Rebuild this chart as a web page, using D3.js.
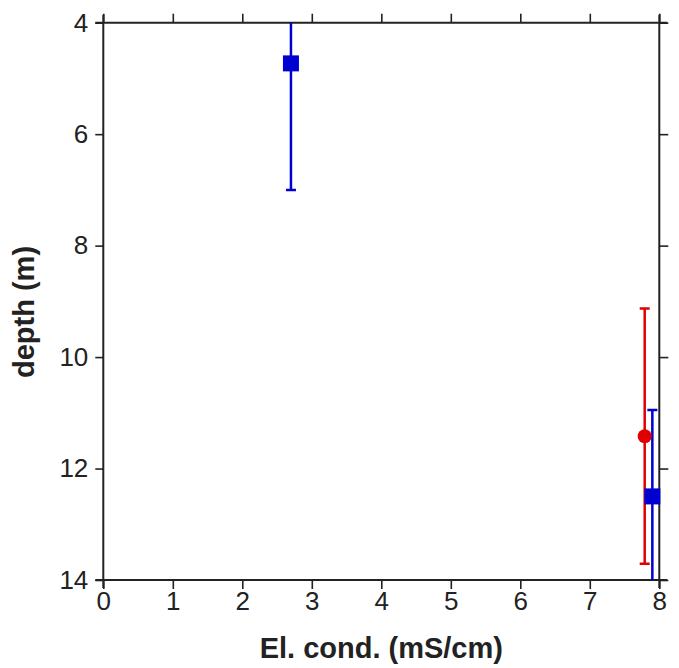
<!DOCTYPE html>
<html>
<head>
<meta charset="utf-8">
<style>
  body { margin: 0; background: #fff; }
  text { font-family: "Liberation Sans", Arial, sans-serif; }
</style>
</head>
<body>
<div id="viz_area"></div>
<script src="https://cdn.jsdelivr.net/npm/d3@7"></script>
<script>
    // data
    var blueX = [2.7, 7.9],
        blueY = [4.73, 12.5],
        blueLo = [2.5, 10.95],     // upper end (shallower depth), clipped at 4
        blueHi = [7.0, 14.6];      // lower end, second one runs past the axis
    var redX = [7.79],
        redY = [11.42],
        redLo = [9.13],
        redHi = [13.71];
    var xTicks = [0, 1, 2, 3, 4, 5, 6, 7, 8],
        yTicks = [4, 6, 8, 10, 12, 14];

    var margin = {top: 22.7, right: 20, bottom: 88, left: 103.3},
        W = 679, H = 668,
        width = 659.3 - margin.left,
        height = 580 - margin.top;

    var svg = d3.select("#viz_area").append("svg")
        .attr("width", W).attr("height", H);
    var g = svg.append("g")
        .attr("transform", "translate(" + margin.left + "," + margin.top + ")");

    var x = d3.scaleLinear().domain([0, 8]).range([0, width]);
    var y = d3.scaleLinear().domain([4, 14]).range([0, height]);

    // clip for the data
    g.append("clipPath").attr("id", "clip")
      .append("rect").attr("width", width).attr("height", height);

    function styleAxis(sel, showLabels) {
        sel.attr("font-family", null);
        sel.select(".domain").remove();
        sel.selectAll(".tick line").attr("stroke", "#222").attr("stroke-width", 1.6);
        sel.selectAll("text")
            .style("font-size", "26px")
            .attr("fill", "#222");
        if (!showLabels) sel.selectAll("text").remove();
    }

    g.append("g").attr("transform", "translate(0," + height + ")")
        .call(d3.axisBottom(x).tickValues(xTicks).tickSize(9).tickPadding(3).tickFormat(d3.format("d")))
        .call(styleAxis, true);
    g.append("g")
        .call(d3.axisTop(x).tickValues(xTicks).tickSize(9))
        .call(styleAxis, false);
    g.append("g")
        .call(d3.axisLeft(y).tickValues(yTicks).tickSize(8).tickPadding(7).tickFormat(d3.format("d")))
        .call(styleAxis, true);
    g.append("g").attr("transform", "translate(" + width + ",0)")
        .call(d3.axisRight(y).tickValues(yTicks).tickSize(9))
        .call(styleAxis, false);

    // frame, lines run a little past the corners
    var ext = 8;
    var frame = [
        [[-ext, 0], [width + ext, 0]],
        [[-ext, height], [width + ext, height]],
        [[0, -ext], [0, height + ext]],
        [[width, -ext], [width, height + ext]]
    ];
    g.selectAll(".frame").data(frame).enter().append("line")
        .attr("x1", d => d[0][0]).attr("y1", d => d[0][1])
        .attr("x2", d => d[1][0]).attr("y2", d => d[1][1])
        .attr("stroke", "#222").attr("stroke-width", 2);

    var plot = g.append("g").attr("clip-path", "url(#clip)");

    function errBars(xs, lo, hi, color) {
        var idx = d3.range(xs.length);
        plot.selectAll(null).data(idx).enter().append("line")
            .attr("x1", i => x(xs[i])).attr("x2", i => x(xs[i]))
            .attr("y1", i => y(lo[i])).attr("y2", i => y(hi[i]))
            .attr("stroke", color).attr("stroke-width", 2.5);
        [lo, hi].forEach(function(arr) {
            plot.selectAll(null).data(idx).enter().append("line")
                .attr("x1", i => x(xs[i]) - 5).attr("x2", i => x(xs[i]) + 5)
                .attr("y1", i => y(arr[i])).attr("y2", i => y(arr[i]))
                .attr("stroke", color).attr("stroke-width", 2.5);
        });
    }

    errBars(redX, redLo, redHi, "#e00000");
    errBars(blueX, blueLo, blueHi, "#0000d0");

    g.selectAll(".red").data(redX).enter().append("circle")
        .attr("cx", (d, i) => x(d)).attr("cy", (d, i) => y(redY[i]))
        .attr("r", 7).attr("fill", "#e00000");

    g.selectAll(".blue").data(blueX).enter().append("rect")
        .attr("x", d => x(d) - 8).attr("y", (d, i) => y(blueY[i]) - 8)
        .attr("width", 16).attr("height", 16).attr("fill", "#0000d0");

    // axis titles
    svg.append("text")
        .attr("x", margin.left + width / 2).attr("y", 658)
        .attr("text-anchor", "middle")
        .style("font-size", "29px").style("font-weight", "bold")
        .attr("fill", "#222")
        .text("El. cond. (mS/cm)");
    svg.append("text")
        .attr("transform", "translate(34,312) rotate(-90)")
        .attr("text-anchor", "middle")
        .style("font-size", "29px").style("font-weight", "bold")
        .attr("fill", "#222")
        .text("depth (m)");
</script>
</body>
</html>
